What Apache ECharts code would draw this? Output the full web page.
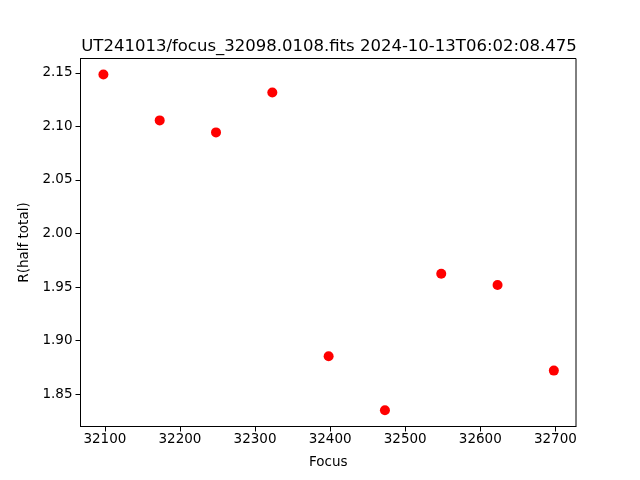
<!DOCTYPE html>
<html><head><meta charset="utf-8">
<script src="https://cdn.jsdelivr.net/npm/echarts@6/dist/echarts.min.js"></script>
<style>html,body{margin:0;padding:0;background:#fff}#c{width:640px;height:480px}</style>
</head><body><div id="c"></div>
<script>
const focus = [32098, 32173, 32248, 32323, 32398, 32473, 32548, 32623, 32698];
const rHalf = [2.1485, 2.1056, 2.0944, 2.1317, 1.8854, 1.8350, 1.9625, 1.9520, 1.8720];
const xTicks = [32100, 32200, 32300, 32400, 32500, 32600, 32700];
const yTicks = [1.85, 1.90, 1.95, 2.00, 2.05, 2.10, 2.15];
const titleText = 'UT241013/focus_32098.0108.fits 2024-10-13T06:02:08.475';

const font = 'DejaVu Sans';
const chart = echarts.init(document.getElementById('c'), null, {renderer: 'canvas'});
chart.setOption({
  animation: false,
  backgroundColor: '#fff',
  title: {
    text: titleText, left: 324, top: 33, textAlign: 'center',
    textStyle: {fontFamily: font, fontSize: 16.5, fontWeight: 'normal', color: '#000'}
  },
  grid: {left: 80.5, right: 64, top: 58.5, bottom: 53.5, show: true, borderColor: '#000', borderWidth: 1, backgroundColor: 'transparent'},
  xAxis: {
    type: 'value', min: 32067.5, max: 32727.5,
    name: 'Focus', nameLocation: 'middle', nameGap: 29,
    nameTextStyle: {fontFamily: font, fontSize: 13.5, color: '#000'},
    axisLine: {show: true, onZero: false, lineStyle: {color: '#000'}},
    axisTick: {show: true, length: 5, lineStyle: {color: '#000'}, customValues: xTicks},
    axisLabel: {fontFamily: font, fontSize: 13.5, color: '#000', margin: 6, customValues: xTicks, formatter: v => String(v)},
    splitLine: {show: false}
  },
  yAxis: {
    type: 'value', min: 1.8198, max: 2.1634,
    name: 'R(half total)', nameLocation: 'middle', nameGap: 47, nameRotate: 90,
    nameTextStyle: {fontFamily: font, fontSize: 13.5, color: '#000'},
    axisLine: {show: true, onZero: false, lineStyle: {color: '#000'}},
    axisTick: {show: true, length: 5, lineStyle: {color: '#000'}, customValues: yTicks},
    axisLabel: {fontFamily: font, fontSize: 13.5, color: '#000', margin: 8, customValues: yTicks, formatter: v => v.toFixed(2)},
    splitLine: {show: false}
  },
  series: [{
    type: 'scatter',
    data: focus.map((f, i) => [f, rHalf[i]]),
    symbol: 'circle', symbolSize: 10,
    itemStyle: {color: '#ff0000', opacity: 1}
  }]
});
</script></body></html>
